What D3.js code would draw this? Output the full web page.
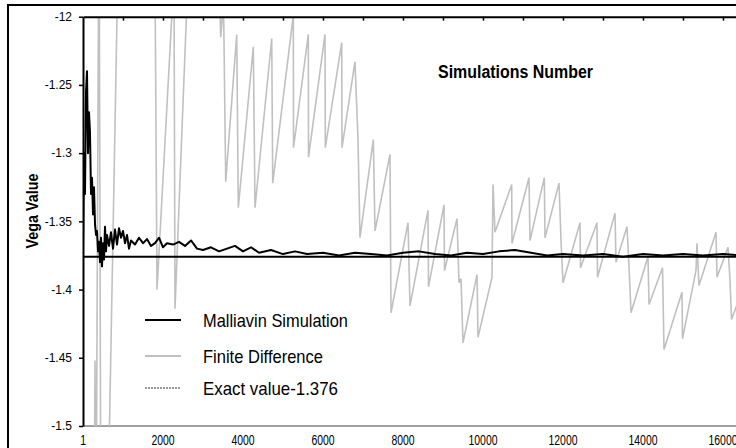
<!DOCTYPE html>
<html>
<head>
<meta charset="utf-8">
<script src="https://cdn.jsdelivr.net/npm/d3@7/dist/d3.min.js"></script>
<style>
html, body { margin: 0; padding: 0; background: #fff; overflow: hidden; }
text { font-family: "Liberation Sans", Arial, sans-serif; fill: #000; }
</style>
</head>
<body>
<div id="draw"></div>
<script>
// Malliavin simulation estimate (simulations number, vega)
var mvSims = [0, 25, 50, 75, 100, 125, 150, 175, 200, 225, 250, 275, 300, 325, 350, 375, 400, 425, 450, 475,
  500, 525, 550, 575, 600, 650, 700, 750, 800, 850, 900, 950, 1000, 1050, 1100, 1150, 1200, 1300, 1400, 1500,
  1600, 1700, 1800, 1900, 2000, 2100, 2250, 2400, 2550, 2700, 2850, 3000, 3200, 3400, 3600, 3800, 4000, 4200,
  4400, 4700, 5000, 5300, 5600, 6000, 6400, 6800, 7200, 7600, 8000, 8400, 8800, 9200, 9600, 10000, 10400,
  10800, 11200, 11600, 12000, 12500, 13000, 13500, 14000, 14500, 15000, 15500, 16000, 16500, 17000];
var mvVega = [-1.372, -1.300, -1.330, -1.255, -1.240, -1.300, -1.270, -1.285, -1.330, -1.318, -1.345, -1.325,
  -1.352, -1.360, -1.357, -1.372, -1.365, -1.380, -1.362, -1.383, -1.366, -1.378, -1.354, -1.372, -1.360,
  -1.368, -1.358, -1.370, -1.356, -1.367, -1.355, -1.362, -1.357, -1.366, -1.360, -1.370, -1.364, -1.367,
  -1.362, -1.366, -1.363, -1.368, -1.366, -1.362, -1.369, -1.366, -1.367, -1.365, -1.368, -1.364, -1.370,
  -1.371, -1.369, -1.372, -1.370, -1.368, -1.372, -1.369, -1.373, -1.371, -1.374, -1.372, -1.374, -1.373,
  -1.375, -1.373, -1.374, -1.375, -1.373, -1.372, -1.374, -1.375, -1.373, -1.374, -1.372, -1.371, -1.373,
  -1.375, -1.374, -1.375, -1.374, -1.376, -1.374, -1.375, -1.374, -1.375, -1.374, -1.375, -1.375];

// finite difference estimate (goes off the chart at the start)
var fdSims = [0, 275, 300, 325, 400, 450, 625, 875, 1800, 1850, 2275, 2300, 2625, 3400, 3443, 3513, 3568,
  3843, 3883, 4258, 4300, 4718, 4743, 5258, 5263, 5633, 5638, 6050, 6058, 6468, 6475, 6800, 6875, 6925,
  7258, 7300, 7675, 7700, 8125, 8175, 8625, 8638, 9025, 9038, 9350, 9400, 9450, 9500, 9850, 9875, 10225,
  10250, 10300, 10718, 10725, 11150, 11175, 11533, 11550, 11900, 11950, 12000, 12425, 12438, 12850, 12863,
  13300, 13325, 13600, 13650, 13700, 14125, 14150, 14488, 14525, 14975, 14988, 15325, 15350, 15400, 15825,
  15850, 16125, 16175, 16213, 16550, 16600];
var fdVega = [-1.62, -1.60, -1.452, -1.60, -1.10, -1.62, -1.56, -1.16, -1.17, -1.400, -1.17, -1.414, -1.17,
  -1.16, -1.215, -1.19, -1.321, -1.213, -1.340, -1.222, -1.340, -1.216, -1.322, -1.199, -1.296, -1.213,
  -1.303, -1.213, -1.296, -1.219, -1.296, -1.233, -1.290, -1.362, -1.290, -1.357, -1.301, -1.417, -1.351,
  -1.412, -1.342, -1.398, -1.338, -1.386, -1.348, -1.395, -1.392, -1.439, -1.389, -1.435, -1.391, -1.323,
  -1.358, -1.323, -1.366, -1.318, -1.364, -1.318, -1.362, -1.322, -1.364, -1.395, -1.351, -1.384, -1.351,
  -1.391, -1.344, -1.380, -1.354, -1.383, -1.417, -1.376, -1.411, -1.384, -1.444, -1.402, -1.436, -1.386,
  -1.366, -1.397, -1.358, -1.391, -1.369, -1.393, -1.422, -1.395, -1.430];

var exactVega = -1.376;

var yTicks = [-1.2, -1.25, -1.3, -1.35, -1.4, -1.45, -1.5];
var yLabels = ['-12', '-1.25', '-1.3', '-1.35', '-1.4', '-1.45', '-1.5'];
var xTicks = [1, 2000, 4000, 6000, 8000, 10000, 12000, 14000, 16000];
var xLabels = ['1', '2000', '4000', '6000', '8000', '10000', '12000', '14000', '16000'];
var topTicks = [1000, 2000, 3000, 4000, 5000, 6000, 7000, 8000, 9000, 10000, 11000, 12000, 13000, 14000,
  15000, 16000, 17000];
var legendNames = ['Malliavin Simulation', 'Finite Difference', 'Exact value-1.376'];

var W = 736, H = 448;
var plotL = 83, plotT = 16.7, plotB = 426, plotR = 883;

var x = d3.scaleLinear().domain([0, 20000]).range([plotL, plotR]);
var y = d3.scaleLinear().domain([-1.5, -1.2]).range([plotB, plotT]);

var $svg = d3.select('#draw').append('svg')
    .attr('width', W).attr('height', H)
    .style('display', 'block');

// outer frame (runs off the right and bottom of the picture)
$svg.append('rect')
    .attr('x', 8).attr('y', 5).attr('width', 900).attr('height', 600)
    .attr('fill', 'none').attr('stroke', '#000').attr('stroke-width', 2);

$svg.append('clipPath').attr('id', 'plot')
  .append('rect')
    .attr('x', plotL).attr('y', plotT)
    .attr('width', plotR - plotL).attr('height', plotB - plotT);

// bottom border of the plot area
$svg.append('line')
    .attr('x1', plotL).attr('x2', plotR)
    .attr('y1', plotB).attr('y2', plotB)
    .attr('stroke', '#a0a0a0').attr('stroke-width', 2);

var line = d3.line()
    .x(function(d){ return x(d[0]); })
    .y(function(d){ return y(d[1]); });

var $plot = $svg.append('g').attr('clip-path', 'url(#plot)');

$plot.append('path')
    .datum(d3.zip(fdSims, fdVega))
    .attr('d', line)
    .attr('fill', 'none').attr('stroke', '#c0c0c0').attr('stroke-width', 1.6)
    .attr('stroke-linejoin', 'miter');

$plot.append('path')
    .datum(d3.zip(mvSims, mvVega))
    .attr('d', line)
    .attr('fill', 'none').attr('stroke', '#000').attr('stroke-width', 2)
    .attr('stroke-linejoin', 'round');

$plot.append('line')
    .attr('x1', x(0)).attr('x2', plotR)
    .attr('y1', y(exactVega)).attr('y2', y(exactVega))
    .attr('stroke', '#000').attr('stroke-width', 2);

// x axis sits on top (ticks only), labels underneath
var $top = $svg.append('g')
    .attr('transform', 'translate(0,' + plotT + ')')
    .call(d3.axisBottom(x).tickValues(topTicks).tickSize(4).tickSizeOuter(0).tickFormat(''));
$top.select('.domain').attr('stroke-width', 2);
$top.selectAll('.tick line').attr('stroke-width', 1.5);

var $left = $svg.append('g')
    .attr('transform', 'translate(' + plotL + ',0)')
    .call(d3.axisLeft(y).tickValues(yTicks).tickSize(4).tickSizeOuter(0).tickPadding(7)
      .tickFormat(function(d, i){ return yLabels[i]; }));
$left.select('.domain').attr('stroke-width', 2);
$left.selectAll('.tick line').attr('stroke-width', 1.5);
$left.selectAll('text').attr('font-size', 12).attr('font-family', '"Liberation Sans", Arial, sans-serif');

$svg.append('g').selectAll('text')
    .data(xTicks)
    .enter()
    .append('text')
    .attr('x', function(d){ return x(d); })
    .attr('y', 445)
    .attr('text-anchor', 'middle')
    .attr('font-size', 14)
    .attr('textLength', function(d, i){ return xLabels[i].length * 5.8; })
    .attr('lengthAdjust', 'spacingAndGlyphs')
    .text(function(d, i){ return xLabels[i]; });

$svg.append('text')
    .attr('x', 438).attr('y', 78)
    .attr('font-size', 18).attr('font-weight', 'bold')
    .attr('textLength', 155).attr('lengthAdjust', 'spacingAndGlyphs')
    .text('Simulations Number');

$svg.append('text')
    .attr('transform', 'translate(38,211) rotate(-90)')
    .attr('text-anchor', 'middle')
    .attr('font-size', 17).attr('font-weight', 'bold')
    .attr('textLength', 75).attr('lengthAdjust', 'spacingAndGlyphs')
    .text('Vega Value');

// legend
var legY = [320, 356, 388];
var legStroke = ['#000', '#c0c0c0', '#777'];
var legDash = [null, null, '2,1'];
var legWidth = [145, 120, 135];
var $leg = $svg.append('g').selectAll('g')
    .data(legendNames)
    .enter()
    .append('g');
$leg.append('line')
    .attr('x1', 145).attr('x2', 181)
    .attr('y1', function(d, i){ return legY[i]; })
    .attr('y2', function(d, i){ return legY[i]; })
    .attr('stroke', function(d, i){ return legStroke[i]; })
    .attr('stroke-width', function(d, i){ return i == 2 ? 1.5 : 2; })
    .attr('stroke-dasharray', function(d, i){ return legDash[i]; });
$leg.append('text')
    .attr('x', 203)
    .attr('y', function(d, i){ return legY[i] + 7; })
    .attr('font-size', 19)
    .attr('textLength', function(d, i){ return legWidth[i]; })
    .attr('lengthAdjust', 'spacingAndGlyphs')
    .text(function(d){ return d; });
</script>
</body>
</html>
